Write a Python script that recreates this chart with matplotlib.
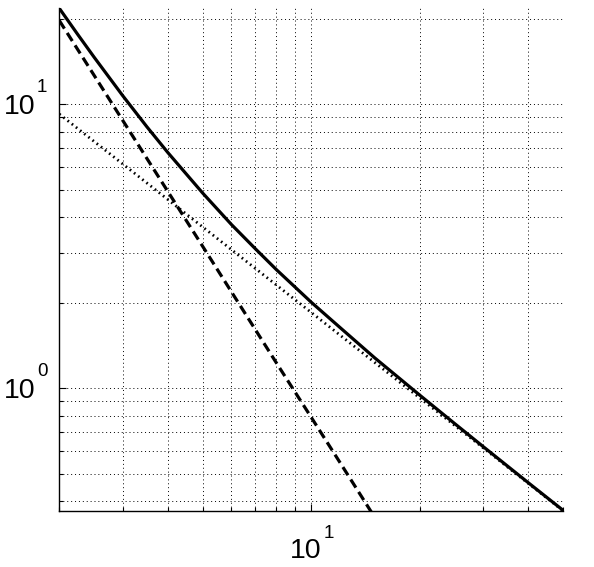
import matplotlib
matplotlib.use('Agg')
import matplotlib.pyplot as plt
from matplotlib import transforms
from matplotlib.ticker import FixedLocator, LogLocator, NullFormatter

# ---- data ----
x_solid = [2, 2.25, 2.5, 3, 3.5, 4, 5, 6, 7, 8, 10, 12, 15, 20, 25, 30, 40, 50]
y_solid = [21.81, 17.64, 14.65, 10.73, 8.34, 6.77, 4.87, 3.78, 3.10, 2.62,
           2.01, 1.64, 1.28, 0.946, 0.751, 0.623, 0.465, 0.3714]
x_dotted = [2, 3, 5, 10, 20, 30, 50]
y_dotted = [9.25, 6.17, 3.70, 1.85, 0.925, 0.617, 0.370]
x_dashed = [2, 3, 5, 8, 10, 12, 15]
y_dashed = [19.75, 8.78, 3.16, 1.23, 0.79, 0.549, 0.351]

x_major = [10]
x_exps = ['1']
y_major = [1, 10]
y_exps = ['0', '1']

plt.rcParams['font.family'] = ['Liberation Sans', 'DejaVu Sans']

fig = plt.figure(figsize=(5.94, 5.67), dpi=100)
ax = fig.add_axes([59.3 / 594, (567 - 510.5) / 567, (563.3 - 59.3) / 594, (510.5 - 8.3) / 567])
ax.set_xscale('log')
ax.set_yscale('log')

lw = 2.3
ax.plot(x_solid, y_solid, color='black', lw=lw, solid_capstyle='butt', zorder=5)
ld, = ax.plot(x_dashed, y_dashed, color='black', lw=lw, zorder=4)
ld.set_dashes((3.0, 1.6))
lt, = ax.plot(x_dotted, y_dotted, color='black', lw=2.0, zorder=3)
lt.set_dashes((0.6, 1.3))

ax.set_xlim(2, 50)
ax.set_ylim(0.3714, 21.81)

ax.xaxis.set_major_locator(FixedLocator(x_major))
ax.yaxis.set_major_locator(FixedLocator(y_major))
ax.xaxis.set_minor_locator(LogLocator(base=10, subs=range(2, 10), numticks=20))
ax.yaxis.set_minor_locator(LogLocator(base=10, subs=range(2, 10), numticks=20))
ax.xaxis.set_minor_formatter(NullFormatter())
ax.yaxis.set_minor_formatter(NullFormatter())
ax.set_xticklabels([])
ax.set_yticklabels([])

grid_kw = dict(color='black', lw=0.7, linestyle=(0, (1.0, 3.0)))
ax.grid(True, which='both', **grid_kw)
ax.set_axisbelow(True)

ax.tick_params(which='both', direction='in', top=False, right=False, width=0.8)
ax.tick_params(which='major', length=5)
ax.tick_params(which='minor', length=3)

for s in ['top', 'right']:
    ax.spines[s].set_visible(False)
for s in ['left', 'bottom']:
    ax.spines[s].set_linewidth(1.0)

# tick labels in MATLAB style (base with raised exponent)
bx = transforms.blended_transform_factory(ax.transData, ax.transAxes)
for xv, e in zip(x_major, x_exps):
    t1 = transforms.offset_copy(bx, fig=fig, x=10.5, y=-47.5, units='dots')
    t2 = transforms.offset_copy(bx, fig=fig, x=12.5, y=-27.5, units='dots')
    ax.text(xv, 0, '10', transform=t1, ha='right', va='baseline', fontsize=20.5, clip_on=False)
    ax.text(xv, 0, e, transform=t2, ha='left', va='baseline', fontsize=13.5, clip_on=False)

by = transforms.blended_transform_factory(ax.transAxes, ax.transData)
for yv, e in zip(y_major, y_exps):
    t1 = transforms.offset_copy(by, fig=fig, x=-23.5, y=-9.5, units='dots')
    t2 = transforms.offset_copy(by, fig=fig, x=-22.5, y=12, units='dots')
    ax.text(0, yv, '10', transform=t1, ha='right', va='baseline', fontsize=20.5, clip_on=False)
    ax.text(0, yv, e, transform=t2, ha='left', va='baseline', fontsize=13.5, clip_on=False)

fig.savefig('out.png', dpi=100)
